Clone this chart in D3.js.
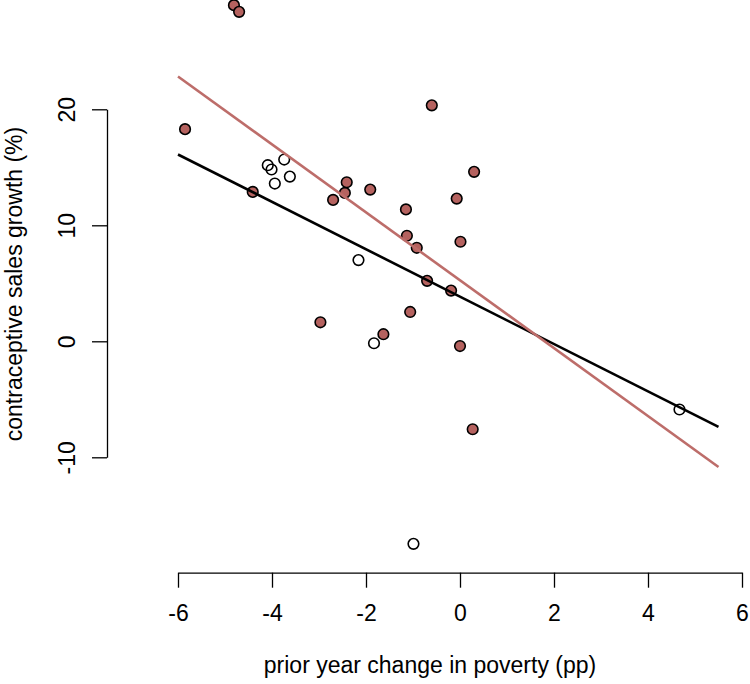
<!DOCTYPE html>
<html>
<head>
<meta charset="utf-8">
<script src="https://cdn.jsdelivr.net/npm/d3@7"></script>
<style>
  html, body { margin: 0; padding: 0; background: #fff; }
  svg { display: block; font-family: "Liberation Sans", Arial, sans-serif; }
</style>
</head>
<body>
<svg id="chart" width="750" height="684"></svg>
<script>
// ---- data ----
const filledX = [-4.81, -4.70, -5.85, -4.41, -2.41, -2.45, -2.70, -1.91, -0.60, 0.30, -0.07,
                 -1.15, -1.13, -0.92, 0.01, -0.70, -0.19, -1.06, -1.63, -2.97, 0.00, 0.27];
const filledY = [28.98, 28.40, 18.29, 12.88, 13.71, 12.79, 12.19, 13.08, 20.34, 14.61, 12.30,
                 11.37, 9.10, 8.06, 8.58, 5.21, 4.37, 2.53, 0.61, 1.64, -0.41, -7.58];
const openX = [-4.09, -4.01, -3.74, -3.94, -3.62, -2.16, -1.83, -0.99, 4.67];
const openY = [15.18, 14.81, 15.67, 13.60, 14.20, 7.00, -0.17, -17.46, -5.88];
// fitted lines: [intercept, slope]
const fitAll = [3.85, -2.042];
const fitFilled = [5.26, -2.927];
const fitRange = [-6, 5.5];
const xTicks = [-6, -4, -2, 0, 2, 4, 6];
const yTicks = [-10, 0, 10, 20];
const xTitle = "prior year change in poverty (pp)";
const yTitle = "contraceptive sales growth (%)";

// ---- layout ----
const svg = d3.select("#chart");
const x = d3.scaleLinear().domain([-6, 6]).range([178, 742]);
const y = d3.scaleLinear().domain([-10, 20]).range([457.3, 109.3]);
const axisX = 107;      // y-axis position
const axisY = 572.7;    // x-axis position
const fontSize = 23;
const brown = "#b5625f";
const lineBrown = "#bd6d6a";

// x axis
const gx = svg.append("g").attr("transform", `translate(0,${axisY})`)
  .call(d3.axisBottom(x).tickValues(xTicks).tickFormat(d3.format("d")).tickSize(15).tickSizeOuter(0));
gx.select(".domain").attr("stroke", "#000").attr("stroke-width", 1.3);
gx.selectAll(".tick line").attr("stroke", "#000").attr("stroke-width", 1.3);
gx.selectAll(".tick text").attr("font-size", fontSize).attr("fill", "#000")
  .attr("font-family", "Liberation Sans, Arial, sans-serif")
  .attr("y", 0).attr("dy", 0).attr("dominant-baseline", "central")
  .attr("transform", "translate(0,40)")
  .text(d => d < 0 ? "-" + Math.abs(d) : String(d));

// y axis
const gy = svg.append("g").attr("transform", `translate(${axisX},0)`)
  .call(d3.axisLeft(y).tickValues(yTicks).tickFormat(d3.format("d")).tickSize(15).tickSizeOuter(0));
gy.select(".domain").attr("stroke", "#000").attr("stroke-width", 1.3);
gy.selectAll(".tick line").attr("stroke", "#000").attr("stroke-width", 1.3);
gy.selectAll(".tick text").attr("font-size", fontSize).attr("fill", "#000")
  .attr("font-family", "Liberation Sans, Arial, sans-serif")
  .attr("x", 0).attr("dy", 0).attr("dominant-baseline", "central")
  .attr("text-anchor", "middle")
  .attr("transform", "translate(-40,0) rotate(-90)")
  .text(d => d < 0 ? "-" + Math.abs(d) : String(d));

// titles
svg.append("text").attr("x", 430).attr("y", 665)
  .attr("text-anchor", "middle").attr("dominant-baseline", "central")
  .attr("font-size", fontSize).attr("fill", "#000").text(xTitle);
svg.append("text").attr("transform", `translate(14,284) rotate(-90)`)
  .attr("text-anchor", "middle").attr("dominant-baseline", "central")
  .attr("font-size", fontSize).attr("fill", "#000").text(yTitle);

// points
const filled = filledX.map((d, i) => ({x: d, y: filledY[i]}));
const open = openX.map((d, i) => ({x: d, y: openY[i]}));

svg.append("g").selectAll("circle").data(filled).join("circle")
  .attr("cx", d => x(d.x)).attr("cy", d => y(d.y)).attr("r", 5.3)
  .attr("fill", brown).attr("stroke", "#000").attr("stroke-width", 1.6);
svg.append("g").selectAll("circle").data(open).join("circle")
  .attr("cx", d => x(d.x)).attr("cy", d => y(d.y)).attr("r", 5.3)
  .attr("fill", "none").attr("stroke", "#000").attr("stroke-width", 1.6);

// fitted lines
const line = d3.line().x(d => x(d[0])).y(d => y(d[1]));
function fitPts(f) { return fitRange.map(v => [v, f[0] + f[1] * v]); }
svg.append("path").attr("d", line(fitPts(fitAll)))
  .attr("fill", "none").attr("stroke", "#000").attr("stroke-width", 2.6);
svg.append("path").attr("d", line(fitPts(fitFilled)))
  .attr("fill", "none").attr("stroke", lineBrown).attr("stroke-width", 2.6);
</script>
</body>
</html>
